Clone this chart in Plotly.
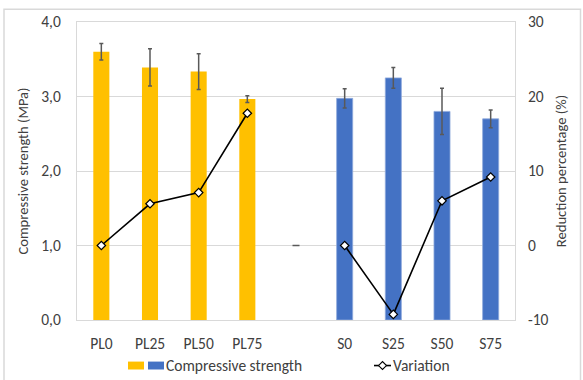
import plotly.graph_objects as go

# Mixtures on the shared category axis; the blank entry separates the two groups
categories = ["PL0", "PL25", "PL50", "PL75", " ", "S0", "S25", "S50", "S75"]

pl_mixes = ["PL0", "PL25", "PL50", "PL75"]
pl_strength = [3.60, 3.39, 3.335, 2.965]       # MPa
pl_strength_sd = [0.11, 0.25, 0.24, 0.045]

s_mixes = ["S0", "S25", "S50", "S75"]
s_strength = [2.975, 3.25, 2.80, 2.70]          # MPa
s_strength_sd = [0.13, 0.14, 0.31, 0.12]

# Reduction percentage relative to the reference mix of each group
variation = [0.0, 5.6, 7.1, 17.75, None, 0.0, -9.25, 6.0, 9.2]
gap_marker_x = [" "]
gap_marker_y = [0.0]

left_ticks = [0, 1, 2, 3, 4]
right_ticks = [-10, 0, 10, 20, 30]
right_ticklabels = ["-10", "0", "10", "20", "30"]

YELLOW = "#FFC000"
BLUE = "#4472C4"
TEXT = "#404040"
GRID = "#D9D9D9"
FONT = "Carlito, Lato, sans-serif"
TICK_SIZE = 15.5
TITLE_SIZE = 14.6

fig = go.Figure()

err_style = dict(type="data", visible=True, color="#595959", thickness=1.5, width=2)

fig.add_trace(go.Bar(
    x=pl_mixes, y=pl_strength, width=0.33,
    marker=dict(color=YELLOW, line=dict(width=0)),
    error_y=dict(array=pl_strength_sd, **err_style),
    name="Compressive strength", showlegend=False,
))
fig.add_trace(go.Bar(
    x=s_mixes, y=s_strength, width=0.33,
    marker=dict(color=BLUE, line=dict(color="#8FAADC", width=0.8)),
    error_y=dict(array=s_strength_sd, **err_style),
    name="Compressive strength", showlegend=False,
))
fig.add_trace(go.Scatter(
    x=categories, y=variation, yaxis="y2", mode="lines+markers",
    connectgaps=False,
    line=dict(color="black", width=1.6),
    marker=dict(symbol="diamond", size=6.5, color="white",
                line=dict(color="black", width=1.2)),
    name="Variation", showlegend=False,
))
fig.add_trace(go.Scatter(
    x=gap_marker_x, y=gap_marker_y, yaxis="y2", mode="markers",
    marker=dict(symbol="line-ew", size=5, line=dict(color="#595959", width=1.5)),
    showlegend=False, hoverinfo="skip",
))


def px_x(px):
    return (px - 77) / 438


def px_y(py):
    return (320 - py) / 301


# Legend keys: two bar swatches share one label, followed by the line key
kx, ky = 382.5, 366
diamond = "M {} {} L {} {} L {} {} L {} {} Z".format(
    px_x(kx - 4), px_y(ky), px_x(kx), px_y(ky - 4),
    px_x(kx + 4), px_y(ky), px_x(kx), px_y(ky + 4))

shapes = [
    dict(type="rect", xref="paper", yref="paper",
         x0=px_x(4), x1=px_x(580.5), y0=px_y(6), y1=px_y(390),
         line=dict(color=GRID, width=1.5), fillcolor="rgba(0,0,0,0)", layer="below"),
    dict(type="rect", xref="paper", yref="paper",
         x0=px_x(128), x1=px_x(144), y0=px_y(362), y1=px_y(370),
         line=dict(width=0), fillcolor=YELLOW),
    dict(type="rect", xref="paper", yref="paper",
         x0=px_x(148), x1=px_x(164), y0=px_y(362), y1=px_y(370),
         line=dict(width=0), fillcolor=BLUE),
    dict(type="line", xref="paper", yref="paper",
         x0=px_x(374), x1=px_x(391), y0=px_y(ky), y1=px_y(ky),
         line=dict(color="black", width=1.6)),
    dict(type="path", xref="paper", yref="paper", path=diamond,
         line=dict(color="black", width=1.1), fillcolor="white"),
]

annotations = [
    dict(xref="paper", yref="paper", x=px_x(164), y=px_y(ky),
         text="Compressive strength", showarrow=False, xanchor="left", yanchor="middle",
         font=dict(family=FONT, size=15.5, color=TEXT)),
    dict(xref="paper", yref="paper", x=px_x(391), y=px_y(ky),
         text="Variation", showarrow=False, xanchor="left", yanchor="middle",
         font=dict(family=FONT, size=15.5, color=TEXT)),
]

fig.update_layout(
    width=583, height=380,
    margin=dict(l=77, r=68, t=19, b=60, pad=0),
    paper_bgcolor="white", plot_bgcolor="white",
    separators=",.",
    barmode="overlay",
    font=dict(family=FONT, size=13, color=TEXT),
    shapes=shapes, annotations=annotations,
    xaxis=dict(
        type="category", categoryorder="array", categoryarray=categories,
        range=[-0.5, len(categories) - 0.5],
        showgrid=False, showline=True, linecolor=GRID, linewidth=1.2, mirror=True,
        ticks="", ticklabelstandoff=9, tickfont=dict(size=TICK_SIZE, color=TEXT),
        zeroline=False,
    ),
    yaxis=dict(
        range=[0, 4], tickvals=left_ticks, tickformat=".1f",
        showgrid=True, gridcolor=GRID, gridwidth=1.2,
        showline=True, linecolor=GRID, linewidth=1.2, mirror=True,
        ticks="", ticklabelstandoff=12, tickfont=dict(size=TICK_SIZE, color=TEXT),
        zeroline=False,
        title=dict(text="Compressive strength (MPa)", standoff=9,
                   font=dict(size=TITLE_SIZE, color=TEXT)),
    ),
    yaxis2=dict(
        range=[-10, 30], overlaying="y", side="right",
        tickvals=right_ticks, ticktext=right_ticklabels,
        showgrid=False, showline=False, zeroline=False,
        ticks="", ticklabelstandoff=12, tickfont=dict(size=TICK_SIZE, color=TEXT),
        title=dict(text="Reduction percentage (%)", standoff=8,
                   font=dict(size=TITLE_SIZE, color=TEXT)),
    ),
)

fig.write_html("out.html")
